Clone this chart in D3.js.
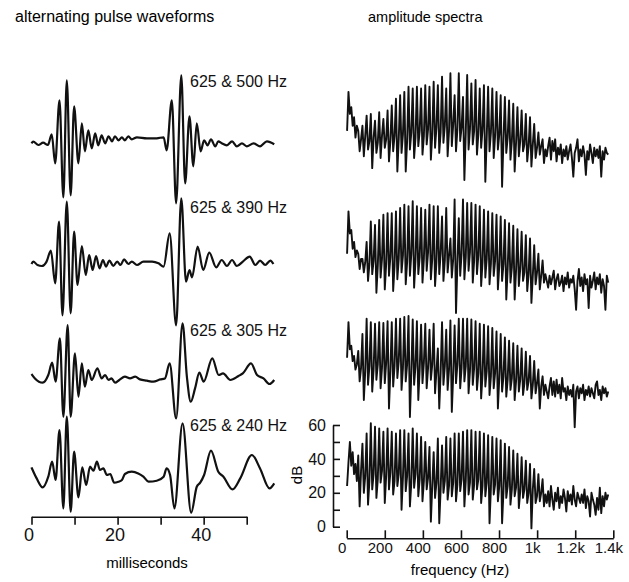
<!DOCTYPE html>
<html>
<head>
<meta charset="utf-8">
<script src="https://cdn.jsdelivr.net/npm/d3@7"></script>
<style>
body { margin: 0; background: #fff; }
svg { display: block; font-family: "Liberation Sans", Arial, sans-serif; }
</style>
</head>
<body>
<svg id="chart" width="629" height="582"></svg>
<script>
// pulse pair labels, one per row
var pairLabels = ["625 & 500 Hz", "625 & 390 Hz", "625 & 305 Hz", "625 & 240 Hz"];

// waveforms: [milliseconds, amplitude] at the turning points of each trace
var wave500 = [[0,0],[0.4,1.7],[1.6,-1.7],[2.7,0.7],[3.8,-1.7],[4.7,9],[5.5,-20],[6.5,43],[7.4,-54],[8.2,63],[9.1,-52],[9.9,37],[10.9,-20],[11.7,20],[12.4,-8],[13.2,13],[14.0,-5],[14.8,10],[15.5,-2],[16.3,8],[17.1,0],[17.9,7],[18.7,2],[19.4,7],[20.2,3],[21.0,6],[21.7,3],[22.5,7],[23.3,4],[24.5,6],[26.8,5],[29.1,5],[30.7,6],[31.4,-7],[32.6,43],[33.6,-60],[34.8,68],[35.7,-40],[36.7,27],[37.6,-23],[38.4,20],[39.3,-8],[40.1,3],[40.9,-2],[41.7,4],[42.7,-3],[43.4,2],[44.2,0],[45.4,-2],[46.6,2],[47.7,-3],[48.9,0],[50.0,-3],[51.6,0],[53.1,-3],[54.7,2],[56.4,-1]];
var wave390 = [[0,-0.7],[0.4,1.7],[1.4,-1.7],[2.4,-2.7],[3.5,1.7],[4.5,12.7],[5.5,-20],[6.4,41.7],[7.2,-52],[8.2,61.7],[9.1,-50],[9.9,31.7],[10.7,-21.7],[11.7,17.3],[12.6,-11.7],[13.4,8.3],[14.2,-6.7],[15.0,7.3],[15.8,-5],[16.6,3.3],[17.3,-3.3],[18.1,2.7],[19.0,-2.7],[19.9,1.7],[20.7,-1.7],[21.5,4],[22.5,-0.7],[23.3,1.7],[24.5,-1.7],[26.0,1.7],[28.0,1.7],[29.5,0],[30.7,-3.3],[32.1,30],[33.6,-62],[34.8,65],[35.9,-18.3],[36.7,-6.7],[37.3,-14],[38.6,16.7],[39.9,-6.7],[41.3,10.7],[42.9,-4],[44.2,3.3],[45.4,-2.7],[46.6,3.3],[47.7,-2.7],[49.1,1.7],[50.7,6.7],[52.0,-1.7],[53.1,2.7],[54.3,-1.7],[55.5,2.7],[56.2,-0.7]];
var wave305 = [[0,2.7],[0.8,-1.7],[2.6,-6],[3.9,1.7],[4.8,14],[5.6,-5],[6.6,38.3],[7.4,-40],[8.4,51.7],[9.1,-40],[10.1,23.3],[10.9,-20],[11.7,13.3],[12.4,-10],[13.2,6.7],[14.0,-3.3],[15.3,8.3],[16.3,-1.7],[17.1,1.7],[17.9,-3.3],[18.6,-1.7],[19.4,-6],[20.4,-3.3],[21.7,0],[22.9,-1.7],[24.1,0],[25.2,-2.7],[26.8,-4],[28.3,-5],[29.9,-2.7],[31.0,-1.7],[32.1,13.3],[33.6,-41.7],[35.1,53.3],[36.1,0],[37.0,-25],[38.0,-11.7],[39.0,4],[40.0,-5],[42.0,18.3],[43.5,1.7],[44.5,3.3],[46.2,-3.3],[48.1,0.7],[49.1,3.3],[51.0,13.3],[52.4,1.7],[53.9,-1.7],[55.3,-7.3],[56.4,-3.3]];
var wave240 = [[0,9.3],[1.2,-1.7],[2.6,-10.7],[3.9,0],[4.8,15],[5.6,-3.3],[6.5,46.7],[7.4,-31.7],[8.2,60],[9.1,-35],[9.9,25],[10.9,-20.7],[11.8,9.3],[12.7,-8.3],[13.6,10],[14.4,6],[15.2,15],[15.9,6.7],[16.7,8.3],[17.5,1.7],[18.3,2.7],[19.2,-6],[20.2,-5],[21.0,-3.3],[21.7,2.7],[23.3,5],[24.8,3.3],[26.0,0],[27.2,-5],[29.1,-4],[30.7,0],[31.4,8.3],[32.2,1.7],[33.2,-31.7],[35.1,53.3],[37.1,-36],[38.4,-10],[39.2,-6],[40.1,1.7],[41.7,26],[43.4,5],[44.6,0],[46.7,-12.7],[48.5,-1.7],[51.2,21.7],[53.1,8.3],[55.3,-11.7],[56.4,-6.7]];

// spectra in dB, one value per 7.33 Hz bin starting at 2 Hz
var specStart = 2, specStep = 22 / 3;
var spec500 = [30, 53, 40, 44, 33, 38, 26, 33,
  30,18,25, 33,15,27, 39,19,24, 40,8,26, 36,17,23, 41,14,27, 37,20,25, 42,12,24,
  45,18,27, 49,6,25, 51,17,28, 53,6,24, 56,19,29, 55,14,26, 56,21,30, 55,16,27,
  57,22,31, 56,13,28, 59,20,32, 57,17,29, 62,23,33, 55,15,30, 64,21,34, 51,18,31,
  64,24,32, 50,1,29, 63,19,31, 58,22,30, 60,16,28, 55,20,31, 57,0,26, 56,18,29,
  55,14,27, 53,19,28, 51,-3,25, 50,17,26, 48,13,24, 46,6,23, 44,15,24, 42,18,22,
  40,12,21, 38,9,22, 34,14,20, 29,16,21, 25,11,19,
  15,21,26,13,24,18,25,12,20,16,22,11,19,15,21,13,18,22,14,3,17,20,25,12,19,15,21,16,4,18,13,22,17,11,20,15,19,14,21,3,18,13,20,17,16];
var spec390 = [33, 58, 45, 47, 36, 40, 31, 35,
  33,24,30, 30,22,28, 40,17,27, 52,21,29, 50,10,26, 53,19,30, 56,12,27, 57,20,31,
  57,11,26, 58,18,30, 60,22,32, 62,15,28, 61,20,33, 64,13,29, 61,21,31, 60,16,30,
  59,23,34, 62,18,30, 61,14,28, 61,21,33, 55,17,29, 60,22,32, 42,19,30, 65,-2,27,
  54,20,33, 65,18,31, 63,23,34, 63,16,29, 62,21,32, 61,14,28, 59,19,30, 58,15,27,
  57,20,29, 56,12,26, 55,17,27, 53,6,24, 51,16,25, 49.5,6,23, 47.5,14,24, 46,17,22,
  44,11,21, 42,4,20, 38,15,22, 33,12,20, 29,16,21,
  17,13,20,15,19,23,12,18,21,14,16,20,11,19,15,22,13,18,16,20,12,0,17,24,14,19,11,21,15,18,1,20,13,17,22,12,19,15,21,10,18,14,0,20,16];
var spec305 = [36, 57, 41, 43, 34, 37, 29, 32,
  40,22,30, 50,11,28, 59,20,31, 57,16,29, 56,23,32, 57,18,30, 56.5,21,33, 57.5,6,28,
  57,19,31, 59,24,34, 59,17,30, 60,22,32, 60.6,1,27, 58.5,20,31, 57.5,11,29, 55.5,21,33,
  56,18,30, 52.5,23,32, 56,15,28, 41.5,6,27, 57,20,31, 52.5,17,29, 58,4,26, 55,21,32,
  59,18,30, 59,22,31, 59,15,28, 58.5,20,30, 57.5,17,27, 56,12,26, 55.5,19,28, 54.5,14,25,
  53.5,18,27, 51.5,6,24, 50,16,25, 48,13,23, 46,17,24, 44.5,11,22, 43,16,23, 41.5,14,21,
  39.5,17,22, 37,12,20, 34,15,21, 29,6,19, 25,14,20,
  16,12,19,24,14,22,13,23,15,20,12,24,16,18,11,19,14,17,13,20,-5,16,19,12,18,15,20,11,17,14,19,13,18,15,12,20,22,14,17,11,19,15,18,13,16];
var spec240 = [24, 38, 50, 36, 44, 31, 37, 27,
  42,12,33, 49,20,30, 55,13,27, 61,22,31, 59,17,28, 58,26,33, 56,14,30, 58,22,32,
  56,19,27, 55,24,31, 57,10,29, 57,21,30, 55,12,26, 58,23,31, 55,18,28, 53,15,27,
  50,22,29, 47,3,24, 44,17,26, 52,2,22, 48,20,27, 53,16,24, 52,18,26, 55,15,25,
  55,21,28, 56,12,27, 57,19,26, 57,16,25, 56,22,28, 56,14,24, 55,18,26, 54,2,23,
  53,19,25, 52,15,24, 51,2,21, 49,17,24, 47,13,22, 45,18,23, 43,11,21, 41,17,22,
  39,14,20, 37,-1,22, 34,14,18, 31,15,20, 28,12,19,
  14,21,12,24,16,10,20,15,23,11,18,14,22,17,9,21,15,19,13,24,16,12,20,17,14,19,14,22,11,18,15,6,20,16,13,7,17,10,23,8,18,12,20,16,19];

var timeTicks = [0, 10, 20, 30, 40, 50];
var freqTicks = [0, 200, 400, 600, 800, 1000, 1200, 1400];
var dbTicks = [0, 10, 20, 30, 40, 50, 60];

var svg = d3.select("#chart");
var waves = [wave500, wave390, wave305, wave240];
var spectra = [spec500, spec390, spec305, spec240];
var waveBase = [143.3, 263.3, 376.7, 476.7];
var specShift = [345, 217, 108, 0];
var labelY = [87, 213, 336, 431];

// ---------- left panel: waveforms ----------
var x = d3.scaleLinear().domain([0, 50]).range([31.5, 246.7]);
var amp = d3.scaleLinear().domain([-100, 100]).range([100, -100]);

var waveLine = d3.line()
    .curve(d3.curveMonotoneX)
    .x(function(d) { return x(d[0]); })
    .y(function(d) { return amp(d[1]); });

waves.forEach(function(w, i) {
  svg.append("g")
      .attr("transform", "translate(0," + waveBase[i] + ")")
    .append("path")
      .datum(w)
      .attr("fill", "none")
      .attr("stroke", "#111")
      .attr("stroke-width", 2.2)
      .attr("stroke-linejoin", "round")
      .attr("d", waveLine);
  svg.append("text")
      .attr("x", 190)
      .attr("y", labelY[i])
      .attr("font-size", 16)
      .attr("fill", "#111")
      .text(pairLabels[i]);
});

var xAxis = svg.append("g")
    .attr("transform", "translate(0,516.7)")
    .call(d3.axisBottom(x)
      .tickValues(timeTicks)
      .tickSizeInner(8)
      .tickSizeOuter(0)
      .tickPadding(4)
      .tickFormat(function(d) { return d % 20 === 0 ? d : ""; }));

// ---------- right panel: spectra ----------
var fx = d3.scaleLinear().domain([0, 1400]).range([346.7, 613.3]);
var y = d3.scaleLinear().domain([0, 60]).range([526.7, 425]);

var specLine = d3.line()
    .x(function(d, i) { return fx(specStart + i * specStep); })
    .y(function(d) { return y(d); });

spectra.forEach(function(s, i) {
  svg.append("g")
      .attr("transform", "translate(0," + (-specShift[i]) + ")")
    .append("path")
      .datum(s)
      .attr("fill", "none")
      .attr("stroke", "#111")
      .attr("stroke-width", 1.9)
      .attr("stroke-linejoin", "round")
      .attr("d", specLine);
});

var fAxis = svg.append("g")
    .attr("transform", "translate(0,538.3)")
    .call(d3.axisBottom(fx)
      .tickValues(freqTicks)
      .tickSizeInner(-8)
      .tickSizeOuter(0)
      .tickPadding(4)
      .tickFormat(function(d) { return d < 1000 ? d : (d / 1000) + "k"; }));

var yAxis = svg.append("g")
    .attr("transform", "translate(333,0)")
    .call(d3.axisLeft(y)
      .tickValues(dbTicks)
      .tickSizeInner(-7)
      .tickSizeOuter(0)
      .tickPadding(7)
      .tickFormat(function(d) { return d % 20 === 0 ? d : ""; }));

[xAxis, fAxis, yAxis].forEach(function(a) {
  a.attr("font-family", null);
  a.selectAll("path, line").attr("stroke", "#111").attr("stroke-width", 1.6);
  a.selectAll("text").attr("fill", "#111");
});
xAxis.attr("font-size", 18);
xAxis.selectAll("text").attr("dx", -3);
fAxis.attr("font-size", 15);
fAxis.selectAll("text").attr("dx", -5);
yAxis.attr("font-size", 16);

// titles and axis names
svg.append("text").attr("x", 15).attr("y", 22).attr("font-size", 16)
    .text("alternating pulse waveforms");
svg.append("text").attr("x", 368).attr("y", 22).attr("font-size", 14.5)
    .text("amplitude spectra");
svg.append("text").attr("x", 147).attr("y", 568).attr("font-size", 15)
    .attr("text-anchor", "middle").text("milliseconds");
svg.append("text").attr("x", 460).attr("y", 575).attr("font-size", 15)
    .attr("text-anchor", "middle").text("frequency (Hz)");
svg.append("text").attr("transform", "translate(302,475) rotate(-90)")
    .attr("font-size", 15).attr("text-anchor", "middle").text("dB");
</script>
</body>
</html>
